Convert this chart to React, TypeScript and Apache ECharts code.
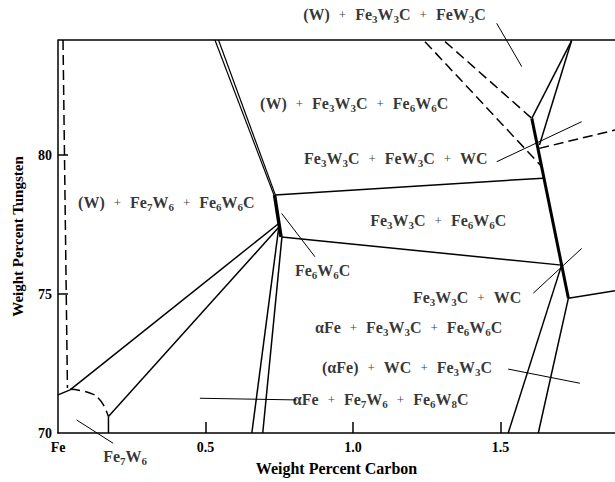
import React, { useEffect, useRef } from "react";
import * as echarts from "echarts";

const FONT = '"Liberation Serif", "Times New Roman", serif';

// axes
const X_MIN = 0;
const X_MAX = 1.888;
const Y_MIN = 70;
const Y_MAX = 84.14;
const xTickValues = [0, 0.5, 1.0, 1.5];
const xTickLabels = ["Fe", "0.5", "1.0", "1.5"];
const xTickMarks = [0.5, 1.0, 1.5];
const yTickValues = [70, 75, 80];
const yTickLabels = ["70", "75", "80"];
const yTickMarks = [75, 80];

// phase boundaries [wt% C, wt% W]
const topBorder = [[X_MIN, Y_MAX], [X_MAX, Y_MAX]];
const dashLeft = [[0.017, 84.14], [0.032, 71.62]];
const shortLeft = [[0, 71.37], [0.041, 71.55]];
const fanUpper = [[0.041, 71.55], [0.746, 77.52]];
const dashArc = [[0.041, 71.57], [0.086, 71.51], [0.12, 71.39], [0.137, 71.25], [0.154, 71.01], [0.171, 70.59]];
const fe7w6Vertical = [[0.171, 70.59], [0.171, 70]];
const fanLower = [[0.171, 70.59], [0.749, 77.41]];
const steepA = [[0.749, 77.45], [0.657, 70]];
const steepB = [[0.759, 77.05], [0.694, 70]];
const fe6w6cRange = [[0.734, 78.56], [0.756, 77.05]];
const doubleUp1 = [[0.532, 84.14], [0.732, 78.56]];
const doubleUp2 = [[0.544, 84.14], [0.737, 78.56]];
const upperTie = [[0.736, 78.56], [1.644, 79.17]];
const lowerTie = [[0.758, 77.05], [1.707, 76.04]];
const fe3w3cRange = [[1.606, 81.32], [1.73, 74.85]];
const rightLow = [[1.73, 74.85], [1.888, 75.12]];
const topRight1 = [[1.606, 81.32], [1.741, 84.12]];
const topRight2 = [[1.632, 80.36], [1.741, 84.12]];
const dashTop1 = [[1.244, 84.08], [1.64, 79.58]];
const dashTop2 = [[1.312, 84.08], [1.606, 81.32]];
const dashRight = [[1.631, 80.24], [1.888, 80.9]];
const bottomRight1 = [[1.707, 76.04], [1.526, 70]];
const bottomRight2 = [[1.73, 74.85], [1.628, 70]];

// label pointer lines
const ptrTopRight = [[1.487, 84.74], [1.572, 83.18]];
const ptrWC3 = [[1.487, 79.76], [1.775, 81.2]];
const ptrWC2 = [[1.611, 75.03], [1.775, 76.64]];
const ptrAlphaWC = [[1.526, 72.3], [1.769, 71.79]];
const ptrAlphaFe7 = [[0.481, 71.25], [0.809, 71.19]];
const ptrFe7W6 = [[0.063, 70.47], [0.187, 69.63]];
const ptrFe6W6C = [[0.758, 77.9], [0.871, 76.34]];

// region labels: text, anchor (left edge, vertical centre)
const labelTexts = [
  "(W) + Fe_3W_3C + FeW_3C",
  "(W) + Fe_3W_3C + Fe_6W_6C",
  "Fe_3W_3C + FeW_3C + WC",
  "(W) + Fe_7W_6 + Fe_6W_6C",
  "Fe_3W_3C + Fe_6W_6C",
  "Fe_6W_6C",
  "Fe_3W_3C + WC",
  "αFe + Fe_3W_3C + Fe_6W_6C",
  "(αFe) + WC + Fe_3W_3C",
  "αFe + Fe_7W_6 + Fe_6W_8C",
  "Fe_7W_6",
];
const labelAnchors = [
  [0.831, 85.04],
  [0.685, 81.87],
  [0.834, 79.89],
  [0.068, 78.31],
  [1.058, 77.66],
  [0.803, 75.83],
  [1.203, 74.86],
  [0.871, 73.78],
  [0.895, 72.37],
  [0.796, 71.22],
  [0.153, 69.14],
];

const segments: { d: number[][]; w: number; dash?: boolean; smooth?: boolean }[] = [
  { d: topBorder, w: 1.5 },
  { d: dashLeft, w: 1.5, dash: true },
  { d: shortLeft, w: 1.5 },
  { d: fanUpper, w: 1.5 },
  { d: dashArc, w: 1.5, dash: true, smooth: true },
  { d: fe7w6Vertical, w: 1.5 },
  { d: fanLower, w: 1.5 },
  { d: steepA, w: 1.5 },
  { d: steepB, w: 1.5 },
  { d: fe6w6cRange, w: 3.5 },
  { d: doubleUp1, w: 1.2 },
  { d: doubleUp2, w: 1.2 },
  { d: upperTie, w: 1.5 },
  { d: lowerTie, w: 1.5 },
  { d: fe3w3cRange, w: 3 },
  { d: rightLow, w: 1.5 },
  { d: topRight1, w: 1.5 },
  { d: topRight2, w: 1.5 },
  { d: dashTop1, w: 1.5, dash: true },
  { d: dashTop2, w: 1.5, dash: true },
  { d: dashRight, w: 1.5, dash: true },
  { d: bottomRight1, w: 1.5 },
  { d: bottomRight2, w: 1.5 },
  { d: ptrTopRight, w: 1 },
  { d: ptrWC3, w: 1 },
  { d: ptrWC2, w: 1 },
  { d: ptrAlphaWC, w: 1 },
  { d: ptrAlphaFe7, w: 1 },
  { d: ptrFe7W6, w: 1 },
  { d: ptrFe6W6C, w: 1 },
];

function toRich(s: string): string {
  return s
    .split(" + ")
    .map((part) =>
      part
        .split(/(_\d)/)
        .filter((t) => t.length > 0)
        .map((t) => (t.startsWith("_") ? `{s|${t.slice(1)}}` : `{n|${t}}`))
        .join("")
    )
    .join("{p|+}");
}

const textBase = { fontFamily: FONT, fontWeight: "bold" as const, color: "#000" };

export default function App() {
  const ref = useRef<HTMLDivElement>(null);
  useEffect(() => {
    if (!ref.current) return;
    const chart = echarts.init(ref.current, null, { renderer: "svg" });
    const lineSeries = segments.map((s) => ({
      type: "line",
      data: s.d,
      showSymbol: false,
      symbol: "none",
      smooth: s.smooth ? 0.5 : false,
      clip: false,
      silent: true,
      lineStyle: { color: "#000", width: s.w, type: s.dash ? [10, 5] : "solid" },
      z: 3,
    }));
    const labelSeries = {
      type: "scatter",
      symbolSize: 0,
      clip: false,
      silent: true,
      z: 5,
      data: labelTexts.map((t, i) => ({
        value: labelAnchors[i],
        label: { formatter: toRich(t) },
      })),
      label: {
        show: true,
        position: "right",
        distance: 0,
        rich: {
          n: { ...textBase, fontSize: 16, lineHeight: 20, verticalAlign: "middle" },
          s: { ...textBase, fontSize: 11, lineHeight: 10, verticalAlign: "bottom" },
          p: { fontFamily: FONT, fontSize: 13, color: "#000", lineHeight: 20, padding: [0, 9, 0, 9] },
        },
      },
    };
    chart.setOption({
      animation: false,
      backgroundColor: "#fff",
      grid: { left: 58, top: 40, right: 0, bottom: 49, containLabel: false, outerBoundsMode: "none" },
      xAxis: {
        type: "value",
        min: X_MIN,
        max: X_MAX,
        splitLine: { show: false },
        axisLine: { show: true, onZero: false, lineStyle: { color: "#000", width: 1.5 } },
        axisTick: { show: true, inside: true, length: 11, customValues: xTickMarks, lineStyle: { color: "#000", width: 1.5 } },
        axisLabel: {
          ...textBase,
          fontSize: 14,
          margin: 7,
          customValues: xTickValues,
          formatter: (v: number) => {
            const i = xTickValues.findIndex((t) => Math.abs(t - v) < 1e-6);
            return i >= 0 ? xTickLabels[i] : "";
          },
        },
        name: "Weight Percent Carbon",
        nameLocation: "middle",
        nameGap: 27,
        nameTextStyle: { ...textBase, fontSize: 16 },
      },
      yAxis: {
        type: "value",
        min: Y_MIN,
        max: Y_MAX,
        splitLine: { show: false },
        axisLine: { show: true, onZero: false, lineStyle: { color: "#000", width: 1.5 } },
        axisTick: { show: true, inside: true, length: 10, customValues: yTickMarks, lineStyle: { color: "#000", width: 1.5 } },
        axisLabel: {
          ...textBase,
          fontSize: 14,
          margin: 6,
          customValues: yTickValues,
          formatter: (v: number) => {
            const i = yTickValues.findIndex((t) => Math.abs(t - v) < 1e-6);
            return i >= 0 ? yTickLabels[i] : "";
          },
        },
        name: "Weight Percent Tungsten",
        nameLocation: "middle",
        nameGap: 33,
        nameTextStyle: { ...textBase, fontSize: 15 },
      },
      series: [...lineSeries, labelSeries],
    });
    return () => chart.dispose();
  }, []);
  return (
    <div
      ref={ref}
      style={{ position: "absolute", left: 0, top: 0, width: 615, height: 482, background: "#fff" }}
    />
  );
}
